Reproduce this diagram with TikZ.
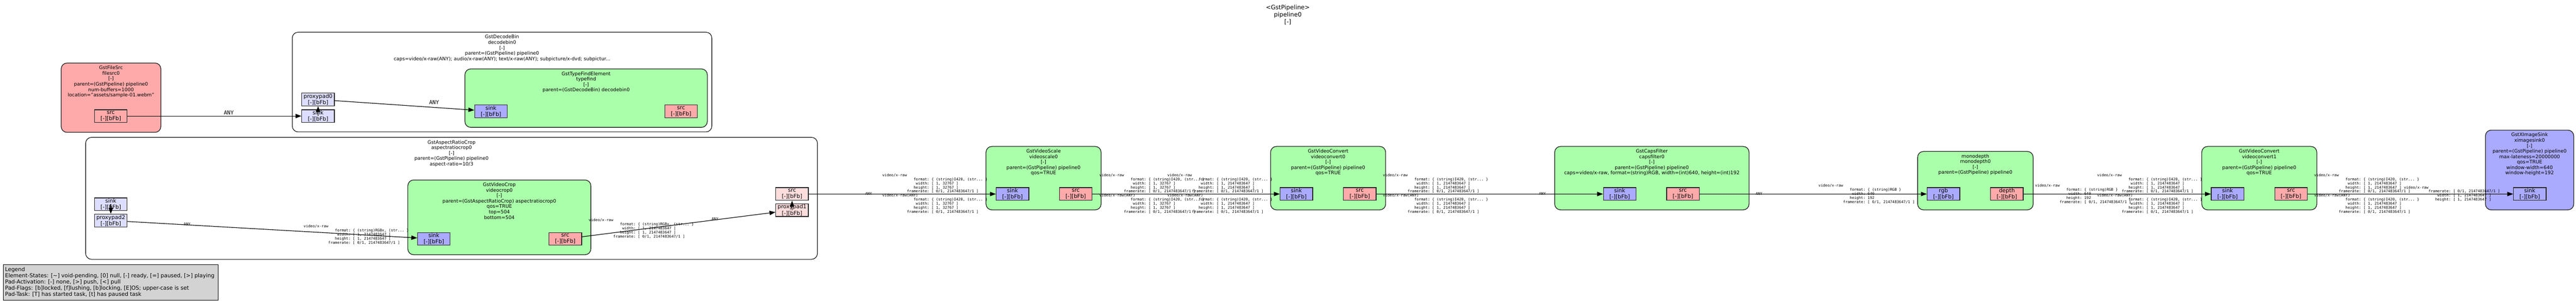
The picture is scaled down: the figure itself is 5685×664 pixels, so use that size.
\documentclass[tikz,border=0pt]{standalone}
\usepackage{fontspec}
\setmainfont{DejaVu Sans}
\setmonofont{DejaVu Sans Mono}
\usetikzlibrary{arrows.meta}
\definecolor{srcfill}{HTML}{FFAAAA}
\definecolor{sinkfill}{HTML}{AAAAFF}
\definecolor{filterfill}{HTML}{AAFFAA}
\definecolor{gsinkfill}{HTML}{DDDDFF}
\definecolor{gsrcfill}{HTML}{FFDDDD}
\definecolor{legendfill}{HTML}{D3D3D3}
\newcommand\fld[2]{\makebox[20\fontcharwd\font`0][r]{#1}: #2}
\newcommand\capsI[2]{#1\\\fld{format}{\{ (string)I420, (str... \}}\\\fld{width}{[ 1, #2 ]}\\\fld{height}{[ 1, #2 ]}\\\fld{framerate}{[ 0/1, 2147483647/1 ]}}
\newcommand\capsX{video/x-raw\\\fld{format}{\{ (string)RGBx, (str... \}}\\\fld{width}{[ 1, 2147483647 ]}\\\fld{height}{[ 1, 2147483647 ]}\\\fld{framerate}{[ 0/1, 2147483647/1 ]}}
\newcommand\capsR{video/x-raw\\\fld{format}{\{ (string)RGB \}}\\\fld{width}{640}\\\fld{height}{192}\\\fld{framerate}{[ 0/1, 2147483647/1 ]}}
\newcommand\capsS{video/x-raw\\\fld{framerate}{[ 0/1, 2147483647/1 ]}\\\fld{width}{[ 1, 2147483647 ]}\\\fld{height}{[ 1, 2147483647 ]}}
\newcommand\boxat[6]{\node[#1, minimum width={(#5-#3)*1pt}, minimum height={(#6-#4)*1pt}] (#2) at ({(#3+#5)/2},{(#4+#6)/2}) {};}
\newcommand\padat[5]{\node[padbox, fill=#2] (#1) at (#3,#4) {#5\\{}[-][bFb]};}
\tikzset{
  binbox/.style={draw=black, line width=1.2pt, rounded corners=13pt, fill=white, inner sep=0pt},
  elembox/.style={draw=black!85, line width=1.5pt, rounded corners=13pt, inner sep=0pt},
  padbox/.style={draw=black!85, line width=1.5pt, inner sep=0pt, minimum width=72pt, minimum height=28pt, align=center, font=\fontsize{12}{14}\selectfont},
  elabel/.style={anchor=north, inner sep=0pt, align=center, font=\fontsize{10.6}{12}\selectfont},
  capslbl/.style={anchor=north west, inner sep=0pt, align=left, font=\ttfamily\fontsize{8.2}{9}\selectfont},
  smallany/.style={inner sep=0pt, font=\ttfamily\fontsize{8.2}{9}\selectfont},
  bigany/.style={inner sep=0pt, font=\ttfamily\fontsize{12}{14}\selectfont},
  link/.style={draw=black, line width=1.3pt, -{Triangle[length=13pt,width=9.5pt]}},
}
\begin{document}
\begin{tikzpicture}[x=1pt,y=-1pt]
\useasboundingbox (0,0) rectangle (5685,664);
% title
\node[anchor=north, inner sep=0pt, align=center, font=\fontsize{13.3}{16}\selectfont] (title) at (2842,11) {<GstPipeline>\\pipeline0\\{}[-]};
% bins and elements
\boxat{elembox,fill=srcfill}{filesrc}{135}{139}{355}{292}
\boxat{binbox}{decodebin}{645}{71}{1571}{291}
\boxat{elembox,fill=filterfill}{typefind}{1026}{152}{1561}{281}
\boxat{binbox}{arcrop}{189}{303}{1804}{572}
\boxat{elembox,fill=filterfill}{videocrop}{900}{397}{1304}{562}
\boxat{elembox,fill=filterfill}{videoscale}{2176}{323}{2430}{463}
\boxat{elembox,fill=filterfill}{vconv0}{2804}{323}{3058}{463}
\boxat{elembox,fill=filterfill}{capsfilter}{3431}{323}{3860}{463}
\boxat{elembox,fill=filterfill}{monodepth}{4232}{334}{4487}{463}
\boxat{elembox,fill=filterfill}{vconv1}{4859}{323}{5113}{463}
\boxat{elembox,fill=sinkfill}{ximagesink}{5485}{287}{5680}{463}
% element labels
\node[elabel] (filesrc-l) at (245,145) {GstFileSrc\\filesrc0\\{}[-]\\parent=(GstPipeline) pipeline0\\num-buffers=1000\\location="assets/sample-01.webm"};
\node[elabel] (decodebin-l) at (1108,77) {GstDecodeBin\\decodebin0\\{}[-]\\parent=(GstPipeline) pipeline0\\caps=video/x-raw(ANY); audio/x-raw(ANY); text/x-raw(ANY); subpicture/x-dvd; subpictur...};
\node[elabel] (typefind-l) at (1293.5,158) {GstTypeFindElement\\typefind\\{}[-]\\parent=(GstDecodeBin) decodebin0};
\node[elabel] (arcrop-l) at (996.5,309) {GstAspectRatioCrop\\aspectratiocrop0\\{}[-]\\parent=(GstPipeline) pipeline0\\aspect-ratio=10/3};
\node[elabel] (videocrop-l) at (1102,403) {GstVideoCrop\\videocrop0\\{}[-]\\parent=(GstAspectRatioCrop) aspectratiocrop0\\qos=TRUE\\top=504\\bottom=504};
\node[elabel] (videoscale-l) at (2303,329) {GstVideoScale\\videoscale0\\{}[-]\\parent=(GstPipeline) pipeline0\\qos=TRUE};
\node[elabel] (vconv0-l) at (2931,329) {GstVideoConvert\\videoconvert0\\{}[-]\\parent=(GstPipeline) pipeline0\\qos=TRUE};
\node[elabel] (capsfilter-l) at (3645.5,329) {GstCapsFilter\\capsfilter0\\{}[-]\\parent=(GstPipeline) pipeline0\\caps=video/x-raw, format=(string)RGB, width=(int)640, height=(int)192};
\node[elabel] (monodepth-l) at (4359.5,340) {monodepth\\monodepth0\\{}[-]\\parent=(GstPipeline) pipeline0};
\node[elabel] (vconv1-l) at (4986,329) {GstVideoConvert\\videoconvert1\\{}[-]\\parent=(GstPipeline) pipeline0\\qos=TRUE};
\node[elabel] (ximagesink-l) at (5582.5,293) {GstXImageSink\\ximagesink0\\{}[-]\\parent=(GstPipeline) pipeline0\\max-lateness=20000000\\qos=TRUE\\window-width=640\\window-height=192};
% pads
\padat{fsrc}{srcfill}{244.5}{256}{src}
\padat{dbpp0}{gsinkfill}{702}{219.5}{proxypad0}
\padat{dbsink}{gsinkfill}{702}{256}{sink}
\padat{tfsink}{sinkfill}{1083.5}{245.5}{sink}
\padat{tfsrc}{srcfill}{1503}{245.5}{src}
\padat{arsink}{gsinkfill}{244.5}{450.5}{sink}
\padat{arpp2}{gsinkfill}{244.5}{486.5}{proxypad2}
\padat{vcsink}{sinkfill}{957.5}{527}{sink}
\padat{vcsrc}{srcfill}{1247.5}{527}{src}
\padat{arsrc}{gsrcfill}{1748}{428}{src}
\padat{arpp1}{gsrcfill}{1748}{463.5}{proxypad1}
\padat{vssink}{sinkfill}{2234.5}{428}{sink}
\padat{vssrc}{srcfill}{2374}{428}{src}
\padat{cvzsink}{sinkfill}{2861}{428}{sink}
\padat{cvzsrc}{srcfill}{3001}{428}{src}
\padat{cfsink}{sinkfill}{3574.5}{428}{sink}
\padat{cfsrc}{srcfill}{3714}{428}{src}
\padat{mdrgb}{sinkfill}{4289}{428}{rgb}
\padat{mddepth}{srcfill}{4429}{428}{depth}
\padat{cvosink}{sinkfill}{4916}{428}{sink}
\padat{cvosrc}{srcfill}{5056}{428}{src}
\padat{xssink}{sinkfill}{5583}{428}{sink}
% links
\draw[link] (fsrc) -- (dbsink);
\draw[link] (dbsink.center) -- (dbpp0.south);
\draw[link] (dbpp0) -- (tfsink);
\draw[link] (arsink.center) -- (arpp2.north);
\draw[link] (arpp2) -- (vcsink);
\draw[link] (vcsrc) -- (arpp1);
\draw[link] (arpp1.center) -- (arsrc.south);
\draw[link] (arsrc) -- (vssink);
\draw[link] (vssrc) -- (cvzsink);
\draw[link] (cvzsrc) -- (cfsink);
\draw[link] (cfsrc) -- (mdrgb);
\draw[link] (mddepth) -- (cvosink);
\draw[link] (cvosrc) -- (xssink);
% link labels
\node[bigany] (l-any1) at (505,249) {ANY};
\node[bigany] (l-any2) at (958,226) {ANY};
\node[smallany] (l-any3) at (413,495) {ANY};
\node[smallany] (l-any4) at (1578,483) {ANY};
\node[smallany] (l-any5) at (1917,427) {ANY};
\node[smallany] (l-any6) at (3404,427) {ANY};
\node[smallany] (l-any7) at (3882,427) {ANY};
\node[capslbl] (c-vcsink) at (670,495.8) {\capsX};
\node[capslbl] (c-vcsrc) at (1299,481.8) {\capsX};
\node[capslbl] (c-vss1) at (1947,382.8) {\capsI{video/x-raw}{32767}};
\node[capslbl] (c-vss2) at (1947,427.8) {\capsI{video/x-raw(ANY)}{32767}};
\node[capslbl] (c-vsr1) at (2426,382.8) {\capsI{video/x-raw}{32767}};
\node[capslbl] (c-vsr2) at (2426,427.8) {\capsI{video/x-raw(ANY)}{32767}};
\node[capslbl] (c-c0s1) at (2576,382.8) {\capsI{video/x-raw}{2147483647}};
\node[capslbl] (c-c0s2) at (2576,427.8) {\capsI{video/x-raw(ANY)}{2147483647}};
\node[capslbl] (c-c0r1) at (3052,382.8) {\capsI{video/x-raw}{2147483647}};
\node[capslbl] (c-c0r2) at (3052,427.8) {\capsI{video/x-raw(ANY)}{2147483647}};
\node[capslbl] (c-mdrgb) at (4013,405.8) {\capsR};
\node[capslbl] (c-mddepth) at (4491,405.8) {\capsR};
\node[capslbl] (c-c1s1) at (4628,382.8) {\capsI{video/x-raw}{2147483647}};
\node[capslbl] (c-c1s2) at (4628,427.8) {\capsI{video/x-raw(ANY)}{2147483647}};
\node[capslbl] (c-c1r1) at (5107,382.8) {\capsI{video/x-raw}{2147483647}};
\node[capslbl] (c-c1r2) at (5107,427.8) {\capsI{video/x-raw(ANY)}{2147483647}};
\node[capslbl] (c-xs) at (5305,409.8) {\capsS};
% legend
\node[draw=black, line width=1.2pt, fill=legendfill, inner sep=0pt, minimum width=475pt, minimum height=78pt] (legendbox) at (244.5,623) {};
\node[anchor=north west, inner sep=0pt, align=left, font=\fontsize{12}{13.8}\selectfont] (legendtext) at (11,589) {Legend\\Element-States: [\textasciitilde] void-pending, [0] null, [-] ready, [=] paused, [>] playing\\Pad-Activation: [-] none, [>] push, [<] pull\\Pad-Flags: [b]locked, [f]lushing, [b]locking, [E]OS; upper-case is set\\Pad-Task: [T] has started task, [t] has paused task};
\end{tikzpicture}
\end{document}
